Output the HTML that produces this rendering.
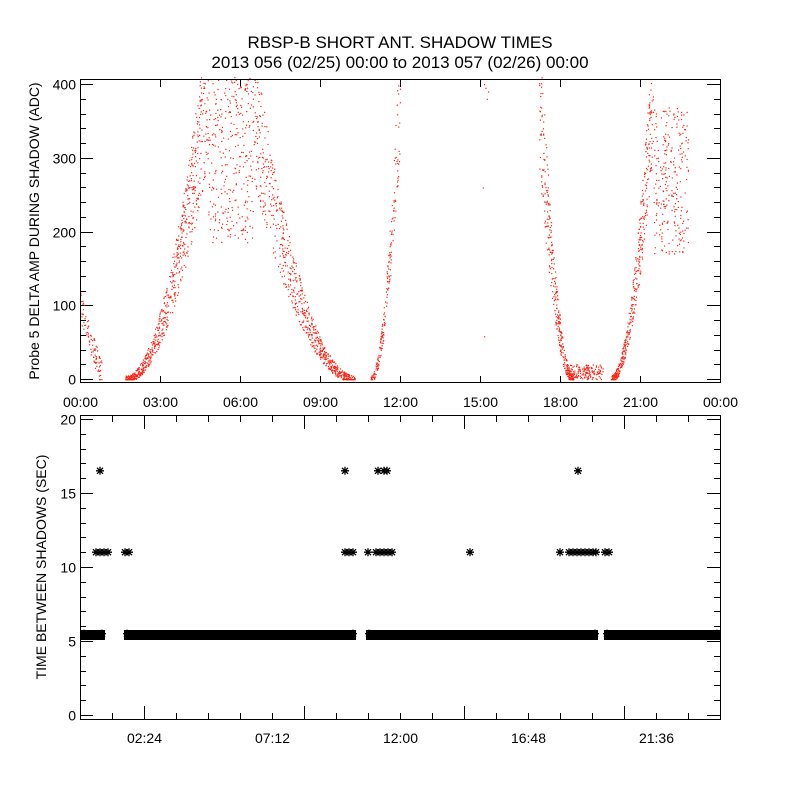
<!DOCTYPE html>
<html><head><meta charset="utf-8"><style>
html,body{margin:0;padding:0;background:#fff}
svg{display:block}
text{font-family:"Liberation Sans",sans-serif;fill:#000}
</style></head><body>
<svg id="s" width="800" height="800" xmlns="http://www.w3.org/2000/svg">
<text x="400" y="48" font-size="17" text-anchor="middle">RBSP-B SHORT ANT. SHADOW TIMES</text>
<text x="400" y="68" font-size="17" text-anchor="middle">2013 056 (02/25) 00:00 to 2013 057 (02/26) 00:00</text>
<g id="gtop"></g>
<g id="gbot"></g>
<rect x="80.5" y="79.5" width="640" height="303" fill="none" stroke="#000"/>
<rect x="80.5" y="415.5" width="640" height="304" fill="none" stroke="#000"/>
<text transform="translate(39,231) rotate(-90)" font-size="14" text-anchor="middle">Probe 5 DELTA AMP DURING SHADOW (ADC)</text>
<text transform="translate(46,567) rotate(-90)" font-size="14" text-anchor="middle">TIME BETWEEN SHADOWS (SEC)</text>
</svg>
<script>
(function(){
var NS="http://www.w3.org/2000/svg";
var gt=document.getElementById("gtop"),gb=document.getElementById("gbot");
function el(p,t,a){var e=document.createElementNS(NS,t);for(var k in a)e.setAttribute(k,a[k]);p.appendChild(e);return e;}
var seed=7;function r(){seed=(seed*16807)%2147483647;return (seed-1)/2147483646;}
function yT(v){return 379-v*295/400;}
var v,y,L,t,x,i;
for(v=0;v<=400;v+=20){y=Math.round(yT(v))+0.5;L=(v%100==0)?13:6;
el(gt,"line",{x1:80,x2:80+L,y1:y,y2:y,stroke:"#000"});el(gt,"line",{x1:720-L,x2:720,y1:y,y2:y,stroke:"#000"});
if(v%100==0){t=el(gt,"text",{x:76,y:y+5,"font-size":14,"text-anchor":"end"});t.textContent=v;}}
var lab=["00:00","03:00","06:00","09:00","12:00","15:00","18:00","21:00","00:00"];
for(i=0;i<=8;i++){x=80.5+i*80;el(gt,"line",{x1:x,x2:x,y1:383,y2:376,stroke:"#000"});el(gt,"line",{x1:x,x2:x,y1:80,y2:87,stroke:"#000"});
t=el(gt,"text",{x:x,y:407,"font-size":14,"text-anchor":"middle"});t.textContent=lab[i];}
function X(h){return 80+h*640/24;}
function pt(h,v){if(v<0)v=0;if(v>410)return;el(gt,"rect",{x:X(h).toFixed(1),y:yT(v).toFixed(1),width:1.2,height:1.2,fill:"#f21"});}
function seg(h0,h1,n,f,sp){for(var i=0;i<n;i++){var h=h0+r()*(h1-h0);var b=f(h);pt(h,b+(r()-0.5)*sp(b));}}
seg(0,0.8,90,function(h){return 100-h*120;},function(b){return 40;});
seg(1.7,4.8,700,function(h){var u=(h-1.7)/3.1;return 400*u*u;},function(b){return 10+b*0.5;});
seg(4.8,6.5,300,function(h){return 300;},function(b){return 230;});
seg(6.5,10.3,700,function(h){var u=(10.3-h)/3.8;return 360*u*u;},function(b){return 10+b*0.5;});
seg(10.9,12.0,200,function(h){var u=(h-10.9)/1.1;return 400*u*u;},function(b){return 10+b*0.4;});
pt(15.15,400);pt(15.2,395);pt(15.3,390);pt(15.25,380);pt(15.1,260);pt(15.15,58);
seg(17.2,18.5,350,function(h){var u=(18.5-h)/1.3;return 400*u*u;},function(b){return 15+b*0.5;});
seg(18.3,19.6,150,function(h){return 10;},function(b){return 20;});
seg(19.9,21.5,400,function(h){var u=(h-19.9)/1.6;return 400*u*u;},function(b){return 10+b*0.45;});
seg(21.5,22.8,250,function(h){return 270;},function(b){return 200;});
function yB(v){return 715-v*14.8;}
for(v=0;v<=20;v++){y=Math.round(yB(v))+0.5;L=(v%5==0)?13:6;
el(gb,"line",{x1:80,x2:80+L,y1:y,y2:y,stroke:"#000"});el(gb,"line",{x1:720-L,x2:720,y1:y,y2:y,stroke:"#000"});
if(v%5==0){t=el(gb,"text",{x:76,y:y+5,"font-size":14,"text-anchor":"end"});t.textContent=v;}}
var bl=["02:24","07:12","12:00","16:48","21:36"];
for(i=1;i<20;i++){x=80.5+i*32;var maj=(i%5==2);
var len=maj?13:6;el(gb,"line",{x1:x,x2:x,y1:719,y2:719-len,stroke:"#000"});el(gb,"line",{x1:x,x2:x,y1:416,y2:416+len,stroke:"#000"});}
for(i=0;i<5;i++){t=el(gb,"text",{x:144.5+i*128,y:743,"font-size":14,"text-anchor":"middle"});t.textContent=bl[i];}
function star(x,v){var y=yB(v);var d="M"+(x-4)+" "+y+"h8M"+x+" "+(y-4)+"v8M"+(x-3)+" "+(y-3)+"l6 6M"+(x+3)+" "+(y-3)+"l-6 6";
el(gb,"path",{d:d,stroke:"#000","stroke-width":1.3,fill:"none"});}
[[81,105],[124,356],[366,598],[604,720]].forEach(function(s){el(gb,"rect",{x:s[0],y:630,width:s[1]-s[0],height:10,fill:"#000"});star(s[0]+3,5.5);star(s[1]-3,5.5);});
[96,100,104,108,125,129,345,349,353,368,376,380,384,388,392,470,560,569,573,577,581,585,589,593,596,605,609].forEach(function(x){star(x,11);});
[100,345,378,384,387,578].forEach(function(x){star(x,16.5);});
})();
</script>
</body></html>
